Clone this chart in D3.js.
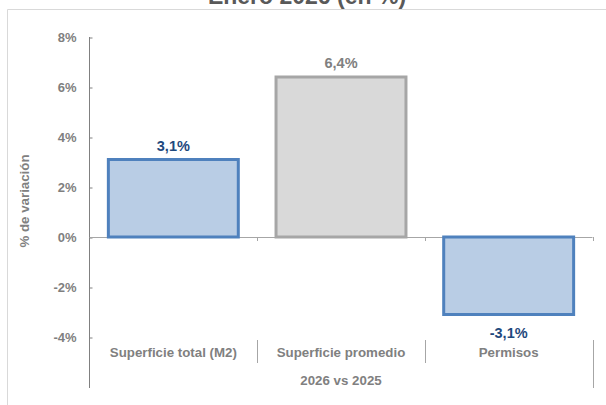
<!DOCTYPE html>
<html><head><meta charset="utf-8">
<script src="https://cdn.jsdelivr.net/npm/d3@7"></script>
<style>body{margin:0;background:#fff}svg{display:block;font-family:"Liberation Sans",Arial,sans-serif}</style>
</head><body>
<script>
const categories = ["Superficie total (M2)", "Superficie promedio", "Permisos"];
const values = [3.1, 6.4, -3.1];
const labels = ["3,1%", "6,4%", "-3,1%"];
const yTicks = [-4, -2, 0, 2, 4, 6, 8];
const groupLabel = "2026 vs 2025";
const title = "Enero 2026 (en %)";
const yTitle = "% de variación";

const W = 606, H = 405;
const svg = d3.select("body").append("svg").attr("width", W).attr("height", H);

// frame
svg.append("path").attr("d", "M7.5,405 L7.5,9.5 L606,9.5").attr("fill", "none").attr("stroke", "#d9d9d9").attr("stroke-width", 1);

svg.append("text").attr("x", 307).attr("y", 4).attr("text-anchor", "middle")
  .attr("font-size", 23).attr("font-weight", "bold").attr("fill", "#595959").text(title);

const x0 = 89.5, x1 = 592.5;
const y = d3.scaleLinear().domain([-4, 8]).range([337, 37]);
const x = d3.scaleBand().domain(categories).range([x0, x1]).paddingInner(0.225).paddingOuter(0.1125);
const xb = d3.scaleBand().domain(categories).range([x0, x1]);

// y axis
const ya = svg.append("g").attr("transform", `translate(${x0},0)`)
  .call(d3.axisLeft(y).tickValues(yTicks).tickSize(-3).tickPadding(13).tickFormat(d => d + "%"));
ya.select(".domain").remove();
ya.selectAll("line").attr("stroke", "#808080").attr("transform", "translate(0,0.5)");
ya.selectAll("text").attr("font-size", 13).attr("font-weight", "bold").attr("fill", "#7f7f7f").attr("font-family", "Liberation Sans, Arial, sans-serif");
svg.append("line").attr("x1", x0).attr("x2", x0).attr("y1", 37).attr("y2", 388).attr("stroke", "#808080");

// zero line
svg.append("line").attr("x1", x0).attr("x2", x1).attr("y1", y(0) + 0.5).attr("y2", y(0) + 0.5).attr("stroke", "#a6a6a6");
categories.forEach(c => {
  const xe = Math.round(xb(c) + xb.bandwidth()) + 0.5;
  svg.append("line").attr("x1", xe).attr("x2", xe).attr("y1", y(0)).attr("y2", y(0) + 4).attr("stroke", "#a6a6a6");
});

// separators for category axis
categories.forEach((c, i) => {
  const xe = Math.round(xb(c) + xb.bandwidth()) + 0.5;
  if (i < categories.length - 1)
    svg.append("line").attr("x1", xe).attr("x2", xe).attr("y1", 340).attr("y2", 363).attr("stroke", "#a6a6a6");
  else
    svg.append("line").attr("x1", xe).attr("x2", xe).attr("y1", 340).attr("y2", 388).attr("stroke", "#a6a6a6");
});

// bars
const fills = ["#b9cde5", "#d9d9d9", "#b9cde5"];
const strokes = ["#4f81bd", "#a6a6a6", "#4f81bd"];
const lblColors = ["#1f497d", "#808080", "#1f497d"];
svg.selectAll("rect.bar").data(values).join("rect").attr("class", "bar")
  .attr("x", (d, i) => x(categories[i]))
  .attr("width", x.bandwidth())
  .attr("y", d => y(Math.max(0, d)))
  .attr("height", d => Math.abs(y(d) - y(0)))
  .attr("fill", (d, i) => fills[i]).attr("stroke", (d, i) => strokes[i]).attr("stroke-width", 3);

svg.selectAll("text.vl").data(values).join("text").attr("class", "vl")
  .attr("x", (d, i) => x(categories[i]) + x.bandwidth() / 2)
  .attr("y", d => d >= 0 ? y(d) - 9 : y(d) + 23)
  .attr("text-anchor", "middle").attr("font-size", 14.5).attr("font-weight", "bold")
  .attr("fill", (d, i) => lblColors[i]).text((d, i) => labels[i]);

svg.selectAll("text.cat").data(categories).join("text").attr("class", "cat")
  .attr("x", d => xb(d) + xb.bandwidth() / 2).attr("y", 357)
  .attr("text-anchor", "middle").attr("font-size", 13.3).attr("font-weight", "bold")
  .attr("fill", "#808080").text(d => d);

svg.append("text").attr("x", (x0 + x1) / 2).attr("y", 385).attr("text-anchor", "middle")
  .attr("font-size", 13.3).attr("font-weight", "bold").attr("fill", "#808080").text(groupLabel);

svg.append("text").attr("transform", "translate(29,201) rotate(-90)").attr("text-anchor", "middle")
  .attr("font-size", 13.3).attr("font-weight", "bold").attr("fill", "#808080").text(yTitle);
</script>
</body></html>
